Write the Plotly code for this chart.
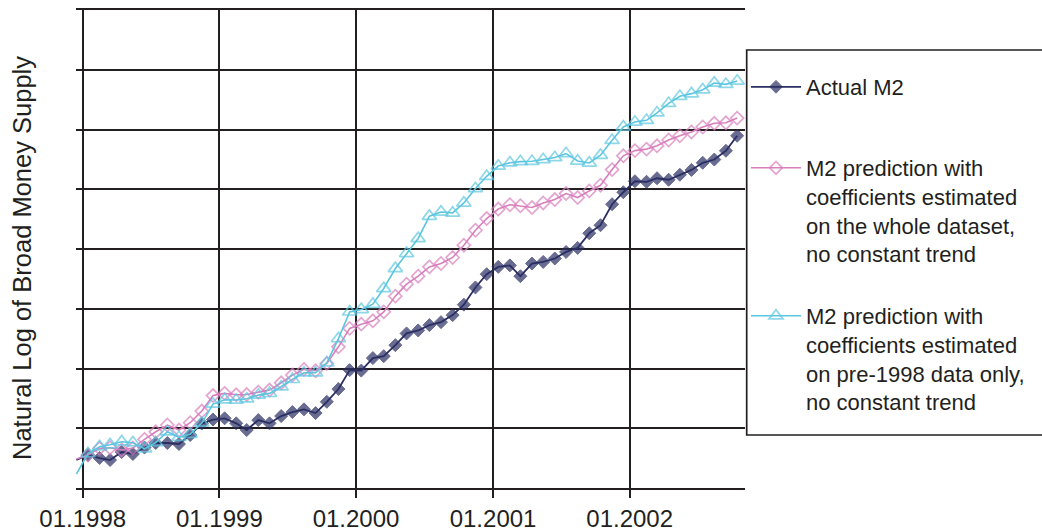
import pandas as pd
import plotly.graph_objects as go

# Monthly observations, Dec 1997 - Oct 2002 (plotted at mid-month)
months = pd.date_range("1997-12-01", periods=59, freq="MS") + pd.Timedelta(days=14)

# Natural log of broad money supply (relative units, one unit per gridline)
actual_m2 = [0.468, 0.552, 0.502, 0.468, 0.602, 0.569, 0.677, 0.753, 0.753, 0.736,
             0.886, 1.079, 1.146, 1.166, 1.082, 0.970, 1.137, 1.082, 1.204, 1.271,
             1.316, 1.254, 1.443, 1.656, 1.973, 1.965, 2.174, 2.207, 2.391, 2.587,
             2.637, 2.726, 2.776, 2.893, 3.069, 3.356, 3.579, 3.701, 3.726, 3.545,
             3.757, 3.784, 3.841, 3.951, 4.018, 4.264, 4.398, 4.749, 4.950, 5.134,
             5.125, 5.184, 5.159, 5.242, 5.323, 5.443, 5.497, 5.644, 5.895]

pred_whole = [0.485, 0.552, 0.664, 0.674, 0.635, 0.669, 0.814, 0.941, 1.054, 0.970,
              1.092, 1.288, 1.547, 1.584, 1.560, 1.564, 1.605, 1.639, 1.761, 1.890,
              1.985, 1.962, 2.085, 2.363, 2.671, 2.742, 2.798, 2.948, 3.211, 3.411,
              3.545, 3.701, 3.757, 3.858, 4.064, 4.314, 4.510, 4.669, 4.741, 4.724,
              4.694, 4.771, 4.828, 4.928, 4.861, 4.972, 5.067, 5.329, 5.560, 5.647,
              5.672, 5.727, 5.824, 5.895, 5.958, 6.042, 6.104, 6.112, 6.191]

pred_pre1998 = [0.234, 0.577, 0.691, 0.724, 0.774, 0.758, 0.657, 0.761, 0.941, 0.848,
                0.900, 1.087, 1.405, 1.477, 1.472, 1.493, 1.555, 1.584, 1.694, 1.818,
                1.928, 1.928, 2.095, 2.500, 2.948, 2.988, 3.077, 3.339, 3.674, 3.925,
                4.176, 4.548, 4.620, 4.604, 4.771, 5.012, 5.217, 5.388, 5.443, 5.463,
                5.468, 5.497, 5.530, 5.597, 5.473, 5.440, 5.569, 5.819, 6.042, 6.125,
                6.154, 6.279, 6.438, 6.555, 6.600, 6.667, 6.778, 6.756, 6.811]

year_ticks = ["1998-01-01", "1999-01-01", "2000-01-01", "2001-01-01", "2002-01-01"]
year_labels = ["01.1998", "01.1999", "01.2000", "01.2001", "01.2002"]

series_names = [
    "Actual M2",
    "M2 prediction with<br>coefficients estimated<br>on the whole dataset,<br>no constant trend",
    "M2 prediction with<br>coefficients estimated<br>on pre-1998 data only,<br>no constant trend",
]
y_title = "Natural Log of Broad Money Supply"

FONT = "Liberation Sans, Arial, Helvetica, sans-serif"
INK = "#231f20"
NAVY = "#2b2e63"
PINK = "#d97fbe"
CYAN = "#5cc6e0"

L, R, T, B = 76, 297, 10, 43
W, H = 1042, 531
PW, PH = W - L - R, H - T - B


def px_x(px):
    return (px - L) / PW


def px_y(py):
    return (H - B - py) / PH


def sizes(n, s):
    # first (Dec 1997) observation sits on the plot edge without a marker
    return [0] + [s] * (n - 1)


fig = go.Figure()
fig.add_trace(go.Scatter(
    x=months, y=actual_m2, name=series_names[0], mode="lines+markers",
    line=dict(color=NAVY, width=1.8),
    marker=dict(symbol="diamond", size=sizes(len(actual_m2), 10), color=NAVY,
                line=dict(width=1, color=NAVY)),
    legend="legend",
))
fig.add_trace(go.Scatter(
    x=months, y=pred_whole, name=series_names[1], mode="lines+markers",
    line=dict(color=PINK, width=1.6),
    marker=dict(symbol="diamond-open", size=sizes(len(pred_whole), 10), color=PINK,
                line=dict(width=1.7, color=PINK)),
    legend="legend2",
))
fig.add_trace(go.Scatter(
    x=months, y=pred_pre1998, name=series_names[2], mode="lines+markers",
    line=dict(color=CYAN, width=1.6),
    marker=dict(symbol="triangle-up-open", size=sizes(len(pred_pre1998), 12.5), color=CYAN,
                line=dict(width=1.7, color=CYAN)),
    legend="legend3",
))

legend_common = dict(
    xanchor="left", yanchor="top", valign="top",
    font=dict(family=FONT, size=22, color=INK),
    bgcolor="rgba(0,0,0,0)", borderwidth=0, itemwidth=50,
)

fig.update_layout(
    width=W, height=H,
    margin=dict(l=L, r=R, t=T, b=B, pad=0, autoexpand=False),
    paper_bgcolor="white", plot_bgcolor="white",
    font=dict(family=FONT, color=INK),
    showlegend=True,
    legend=dict(x=px_x(746), y=px_y(66), **legend_common),
    legend2=dict(x=px_x(746), y=px_y(147), **legend_common),
    legend3=dict(x=px_x(746), y=px_y(295), **legend_common),
    xaxis=dict(
        type="date", automargin=False,
        range=["1997-12-14", "2002-11-05"],
        tickmode="array", tickvals=year_ticks, ticktext=year_labels,
        showgrid=True, gridcolor=INK, gridwidth=1.7,
        ticks="outside", ticklen=8, tickwidth=1.7, tickcolor=INK,
        showline=True, linecolor=INK, linewidth=1.7, mirror=True,
        tickfont=dict(family=FONT, size=24, color=INK),
        zeroline=False,
    ),
    yaxis=dict(
        automargin=False,
        range=[0, 8], tick0=0, dtick=1,
        showgrid=True, gridcolor=INK, gridwidth=1.7,
        showticklabels=False, ticks="", zeroline=False, showline=False,
    ),
    annotations=[dict(
        text=y_title, textangle=-90, showarrow=False,
        xref="paper", yref="paper", x=px_x(22), y=px_y(258),
        xanchor="center", yanchor="middle",
        font=dict(family=FONT, size=25.5, color=INK),
    )],
    shapes=[dict(
        type="rect", xref="paper", yref="paper",
        x0=px_x(746.7), x1=px_x(1060), y0=px_y(435), y1=px_y(50),
        line=dict(color=INK, width=1.7), fillcolor="white", layer="below",
    )],
)

fig.write_html("out.html", config={"displayModeBar": False},
               post_script="document.body.style.margin='0';")
